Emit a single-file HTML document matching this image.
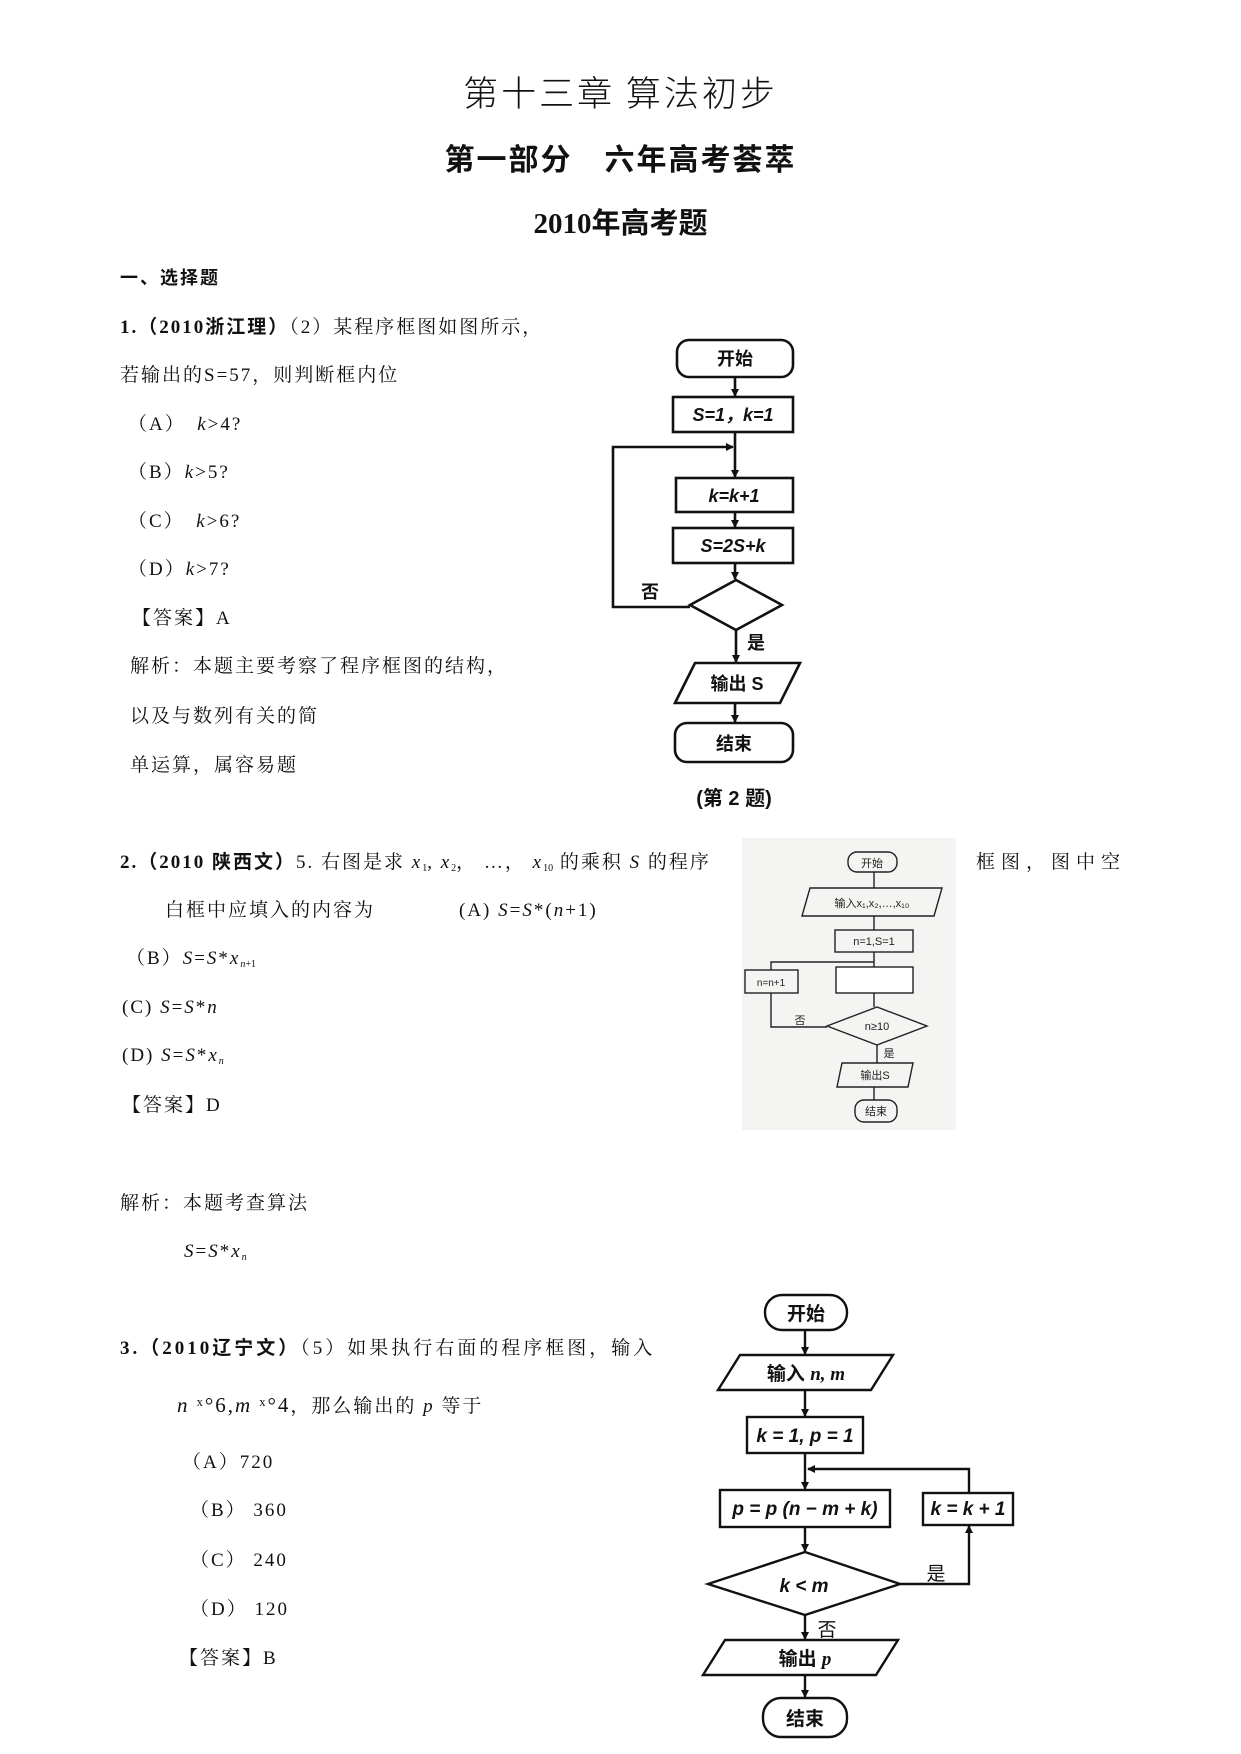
<!DOCTYPE html>
<html><head><meta charset="utf-8"><style>
body{margin:0;background:#fff;}
#p{position:relative;width:1241px;height:1754px;overflow:hidden;background:#fff;font-family:"Liberation Serif","Noto Serif CJK SC","Noto Sans CJK SC",serif;color:#111;}
.t{position:absolute;white-space:nowrap;line-height:28px;height:28px;font-size:19px;letter-spacing:2px;}
.b{font-weight:bold;font-family:"Liberation Serif","Noto Sans CJK SC",serif;}
i{font-style:italic;}
sub{font-size:10px;vertical-align:-3px;letter-spacing:0}
svg text{font-family:"Liberation Sans","Noto Sans CJK SC",sans-serif;}
</style></head><body><div id="p">
<div class="t" style="top:72px;left:0;width:1241px;text-align:center;font-size:35px;line-height:40px;height:40px;font-family:'Noto Sans CJK SC',sans-serif;font-weight:300;letter-spacing:3px">第十三章 算法初步</div>
<div class="t b" style="top:139px;left:0;width:1241px;text-align:center;font-size:30px;line-height:36px;height:36px;font-family:'Noto Sans CJK SC',sans-serif">第一部分　六年高考荟萃</div>
<div class="t b" style="top:203px;left:0;width:1241px;text-align:center;font-size:29px;line-height:36px;height:36px;letter-spacing:0">2010<span style="font-family:'Noto Sans CJK SC',sans-serif">年高考题</span></div>
<div class="t b" style="top:263px;left:120px;font-family:'Noto Sans CJK SC',sans-serif;font-size:18px">一、选择题</div>

<div class="t" style="top:314px;left:120px"><span class="b">1.（2010浙江理）</span>（2）某程序框图如图所示，</div>
<div class="t" style="top:362px;left:120px">若输出的S=57，则判断框内位</div>
<div class="t" style="top:411px;left:128px">（A）　<i>k</i>&gt;4?</div>
<div class="t" style="top:459px;left:128px">（B）<i>k</i>&gt;5?</div>
<div class="t" style="top:508px;left:128px">（C）　<i>k</i>&gt;6?</div>
<div class="t" style="top:556px;left:128px">（D）<i>k</i>&gt;7?</div>
<div class="t" style="top:605px;left:132px">【答案】A</div>
<div class="t" style="top:653px;left:130px">解析：本题主要考察了程序框图的结构，</div>
<div class="t" style="top:703px;left:130px">以及与数列有关的简</div>
<div class="t" style="top:752px;left:130px">单运算，属容易题</div>

<svg style="position:absolute;left:0;top:0" width="1241" height="1754">
<defs><marker id="a" markerWidth="8" markerHeight="8" refX="7" refY="4" orient="auto" markerUnits="userSpaceOnUse"><path d="M0,0L8,4L0,8z" fill="#111"/></marker></defs>
<g stroke="#111" stroke-width="2.6" fill="none">
<rect x="677" y="340" width="116" height="37" rx="12"/>
<rect x="673" y="397" width="120" height="35"/>
<rect x="676" y="478" width="117" height="34"/>
<rect x="673" y="528" width="120" height="35"/>
<path d="M690,605L736,580L782,605L736,630Z"/>
<path d="M695,663L800,663L780,703L675,703Z"/>
<rect x="675" y="723" width="118" height="39" rx="12"/>
<line x1="735" y1="377" x2="735" y2="396" marker-end="url(#a)"/>
<line x1="735" y1="432" x2="735" y2="477" marker-end="url(#a)"/>
<line x1="735" y1="512" x2="735" y2="527" marker-end="url(#a)"/>
<line x1="735" y1="563" x2="735" y2="579" marker-end="url(#a)"/>
<line x1="736" y1="630" x2="736" y2="662" marker-end="url(#a)"/>
<line x1="735" y1="703" x2="735" y2="722" marker-end="url(#a)"/>
<polyline points="690,607 613,607 613,447 733,447" marker-end="url(#a)"/>
</g>
<g font-weight="bold" font-size="18" text-anchor="middle" fill="#111">
<text x="735" y="365">开始</text>
<text x="733" y="421" font-style="italic" font-family="Liberation Serif">S=1，k=1</text>
<text x="734" y="502" font-style="italic" font-family="Liberation Serif">k=k+1</text>
<text x="733" y="552" font-style="italic" font-family="Liberation Serif">S=2S+k</text>
<text x="737" y="690">输出 S</text>
<text x="734" y="750">结束</text>
<text x="650" y="598">否</text>
<text x="756" y="649">是</text>
<text x="734" y="805" font-size="20">(第 2 题)</text>
</g>

<!-- flowchart 2 -->
<rect x="742" y="838" width="214" height="292" fill="#f4f4f2"/>
<g stroke="#222" stroke-width="1.4" fill="none">
<rect x="848" y="852" width="49" height="20" rx="9"/>
<path d="M810,888L942,888L934,916L802,916Z"/>
<rect x="835" y="930" width="78" height="22"/>
<rect x="836" y="967" width="77" height="26" fill="#fff"/>
<rect x="745" y="970" width="53" height="23"/>
<path d="M827,1026L877,1007L927,1026L877,1045Z"/>
<path d="M842,1063L913,1063L908,1087L837,1087Z"/>
<rect x="855" y="1100" width="42" height="22" rx="9"/>
<line x1="874" y1="872" x2="874" y2="888"/><line x1="874" y1="916" x2="874" y2="930"/>
<line x1="874" y1="952" x2="874" y2="967"/><line x1="874" y1="993" x2="874" y2="1007"/>
<line x1="877" y1="1045" x2="877" y2="1063"/><line x1="874" y1="1087" x2="874" y2="1100"/>
<polyline points="827,1027 771,1027 771,993"/><polyline points="771,970 771,962 874,962"/>
</g>
<g font-size="11" text-anchor="middle" fill="#222">
<text x="872" y="867">开始</text><text x="872" y="907">输入x₁,x₂,…,x₁₀</text>
<text x="874" y="945">n=1,S=1</text><text x="771" y="986" font-size="10">n=n+1</text>
<text x="877" y="1030">n≥10</text><text x="875" y="1079">输出S</text><text x="876" y="1115">结束</text>
<text x="800" y="1024">否</text><text x="889" y="1057">是</text>
</g>

<!-- flowchart 3 -->
<g stroke="#111" stroke-width="2.4" fill="none">
<rect x="765" y="1295" width="82" height="35" rx="17"/>
<path d="M740,1355L893,1355L871,1390L718,1390Z"/>
<rect x="747" y="1417" width="116" height="36"/>
<rect x="720" y="1490" width="170" height="37"/>
<rect x="923" y="1493" width="90" height="32"/>
<path d="M708,1584L805,1552L900,1584L805,1615Z"/>
<path d="M725,1640L898,1640L876,1675L703,1675Z"/>
<rect x="763" y="1698" width="84" height="39" rx="18"/>
<line x1="805" y1="1330" x2="805" y2="1354" marker-end="url(#a)"/>
<line x1="805" y1="1390" x2="805" y2="1416" marker-end="url(#a)"/>
<line x1="805" y1="1453" x2="805" y2="1489" marker-end="url(#a)"/>
<line x1="805" y1="1527" x2="805" y2="1551" marker-end="url(#a)"/>
<line x1="805" y1="1615" x2="805" y2="1639" marker-end="url(#a)"/>
<line x1="805" y1="1675" x2="805" y2="1697" marker-end="url(#a)"/>
<polyline points="900,1584 969,1584 969,1526" marker-end="url(#a)"/>
<polyline points="969,1493 969,1469 808,1469" marker-end="url(#a)"/>
</g>
<g font-weight="bold" font-size="19" text-anchor="middle" fill="#111">
<text x="806" y="1320">开始</text>
<text x="806" y="1380">输入 <tspan font-style="italic" font-family="Liberation Serif">n, m</tspan></text>
<text x="805" y="1442" font-style="italic" font-family="Liberation Serif">k = 1, p = 1</text>
<text x="805" y="1515" font-style="italic" font-family="Liberation Serif">p = p (n − m + k)</text>
<text x="968" y="1515" font-style="italic" font-family="Liberation Serif">k = k + 1</text>
<text x="804" y="1592" font-style="italic" font-family="Liberation Serif">k &lt; m</text>
<text x="805" y="1665">输出 <tspan font-style="italic" font-family="Liberation Serif">p</tspan></text>
<text x="805" y="1725">结束</text>
<text x="936" y="1580" font-weight="normal">是</text>
<text x="827" y="1636" font-weight="normal">否</text>
</g>
</svg>

<div class="t" style="top:849px;left:120px"><span class="b">2.（2010 陕西文）</span>5. 右图是求 <i>x</i><sub>1</sub>, <i>x</i><sub>2</sub>， …， <i>x</i><sub>10</sub> 的乘积 <i>S</i> 的程序</div>
<div class="t" style="top:849px;left:976px;letter-spacing:6px">框图，图中空</div>
<div class="t" style="top:897px;left:165px">白框中应填入的内容为　　　　(A) <i>S</i>=<i>S</i>*(<i>n</i>+1)</div>
<div class="t" style="top:945px;left:126px">（B）<i>S</i>=<i>S</i>*<i>x</i><sub><i>n</i>+1</sub></div>
<div class="t" style="top:994px;left:122px">(C) <i>S</i>=<i>S</i>*<i>n</i></div>
<div class="t" style="top:1042px;left:122px">(D) <i>S</i>=<i>S</i>*<i>x</i><sub><i>n</i></sub></div>
<div class="t" style="top:1092px;left:122px">【答案】D</div>
<div class="t" style="top:1190px;left:120px">解析：本题考查算法</div>
<div class="t" style="top:1238px;left:184px"><i>S</i>=<i>S</i>*<i>x</i><sub><i>n</i></sub></div>

<div class="t" style="top:1335px;left:120px;letter-spacing:3px"><span class="b">3.（2010辽宁文）</span>（5）如果执行右面的程序框图，输入</div>
<div class="t" style="top:1391px;left:177px;font-size:21px"><i>n</i> ˣ°6,<i>m</i> ˣ°4<span style="font-size:19px">，那么输出的 <i>p</i> 等于</span></div>
<div class="t" style="top:1449px;left:182px">（A）720</div>
<div class="t" style="top:1497px;left:190px">（B） 360</div>
<div class="t" style="top:1547px;left:190px">（C） 240</div>
<div class="t" style="top:1596px;left:190px">（D） 120</div>
<div class="t" style="top:1645px;left:179px">【答案】B</div>
</div></body></html>
